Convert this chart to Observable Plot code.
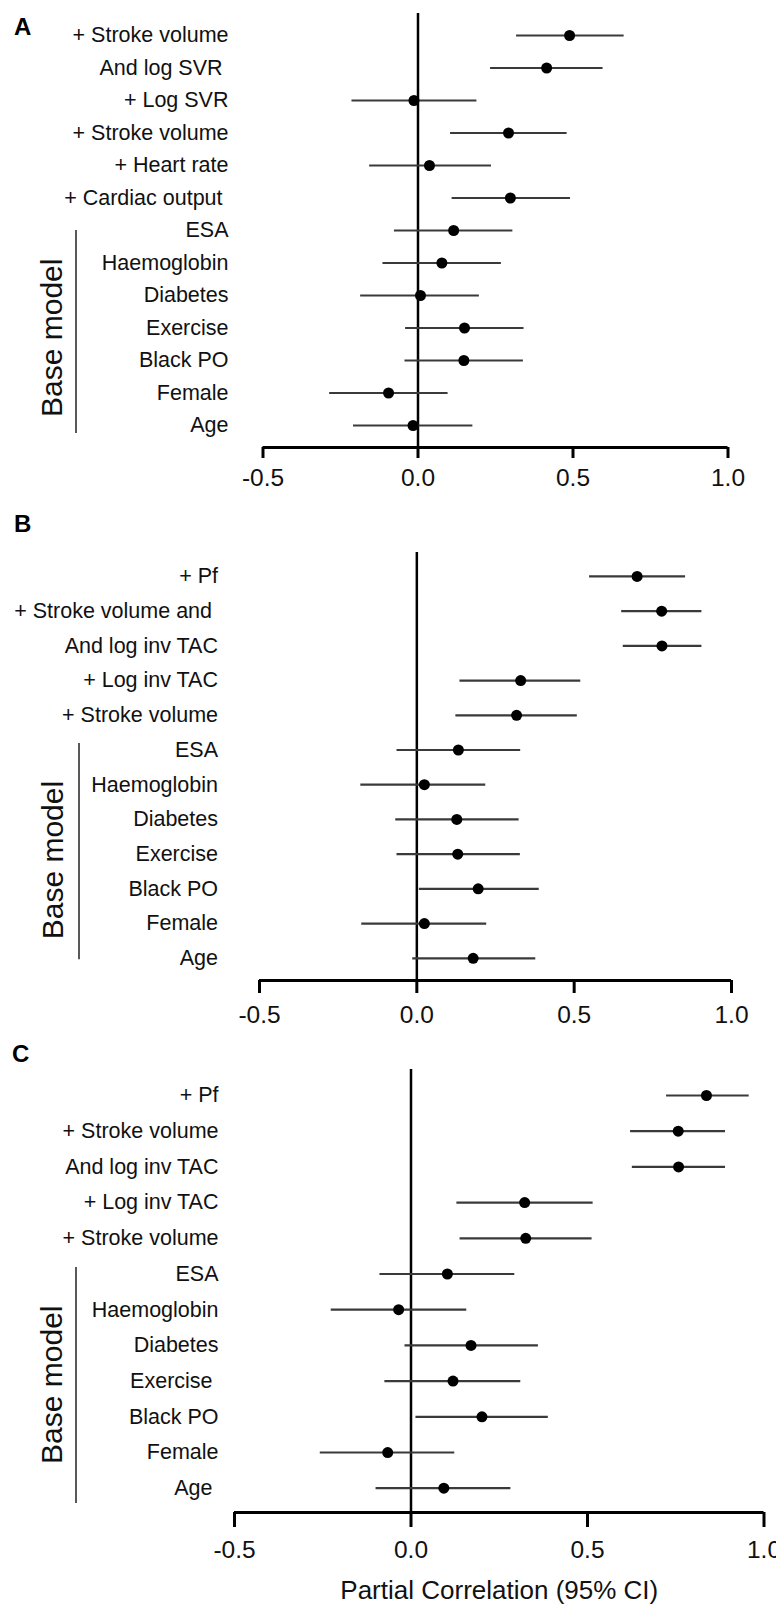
<!DOCTYPE html>
<html><head><meta charset="utf-8">
<script src="https://cdn.jsdelivr.net/npm/d3@7"></script>
<script src="https://cdn.jsdelivr.net/npm/@observablehq/plot@0.6"></script>
<style>
body{margin:0;background:#fff;}
#wrap{position:relative;width:776px;height:1605px;font-family:"Liberation Sans",Arial,sans-serif;overflow:hidden;}
.panel{position:absolute;left:0;}
.tag{position:absolute;font-weight:bold;font-size:24px;line-height:1;color:#000;}
svg{display:block;}
</style></head><body><div id="wrap"></div>
<script>
// ---- data ----
const xTicks = [-0.5, 0, 0.5, 1.0];
const groupLabel = "Base model";
const xTitle = "Partial Correlation (95% CI)";

const labelsA = ["+ Stroke volume","And log SVR\u00A0","+ Log SVR","+ Stroke volume","+ Heart rate","+ Cardiac output\u00A0","ESA","Haemoglobin","Diabetes","Exercise","Black PO","Female","Age"];
const estA = [0.489, 0.415, -0.013, 0.292, 0.037, 0.298, 0.115, 0.077, 0.008, 0.150, 0.148, -0.095, -0.016];
const loA  = [0.318, 0.234, -0.213, 0.105, -0.156, 0.110, -0.076, -0.113, -0.185, -0.040, -0.042, -0.285, -0.208];
const hiA  = [0.665, 0.597, 0.190, 0.481, 0.237, 0.492, 0.306, 0.269, 0.198, 0.342, 0.340, 0.097, 0.177];
const baseStartA = 6;

const labelsB = ["+ Pf","+ Stroke volume and\u00A0","And log inv TAC","+ Log inv TAC","+ Stroke volume","ESA","Haemoglobin","Diabetes","Exercise","Black PO","Female","Age"];
const estB = [0.700, 0.778, 0.779, 0.330, 0.317, 0.132, 0.024, 0.127, 0.130, 0.195, 0.024, 0.179];
const loB  = [0.549, 0.651, 0.656, 0.137, 0.124, -0.063, -0.178, -0.067, -0.063, 0.008, -0.175, -0.013];
const hiB  = [0.854, 0.906, 0.906, 0.521, 0.510, 0.330, 0.219, 0.325, 0.329, 0.389, 0.222, 0.378];
const baseStartB = 5;

const labelsC = ["+ Pf","+ Stroke volume","And log inv TAC","+ Log inv TAC","+ Stroke volume","ESA","Haemoglobin","Diabetes","Exercise\u00A0","Black PO","Female","Age\u00A0"];
const estC = [0.837, 0.757, 0.758, 0.322, 0.325, 0.103, -0.035, 0.170, 0.119, 0.201, -0.066, 0.093];
const loC  = [0.724, 0.622, 0.627, 0.130, 0.139, -0.088, -0.226, -0.017, -0.074, 0.014, -0.257, -0.099];
const hiC  = [0.958, 0.891, 0.891, 0.516, 0.513, 0.294, 0.158, 0.361, 0.311, 0.389, 0.124, 0.283];
const baseStartC = 5;

// ---- layout ----
const FONT = '"Liberation Sans", Arial, sans-serif';
const layouts = {
  A: {top: 0, height: 500, ml: 262.5, mr: 48.5, mt: 13, mb: 53, yTop: -0.677, yBot: 0.677, ts: 11, tp: 10, pad: 34.5,
      bx: 75.5, b1: 0.0, b2: 0.25, tx: 52, tOff: 0.3, tagTop: 15},
  B: {top: 500, height: 530, ml: 259, mr: 45, mt: 52, mb: 50, yTop: -0.69, yBot: 0.64, ts: 13, tp: 12, pad: 41.5,
      bx: 78.5, b1: -0.19, b2: 0.04, tx: 52.5, tOff: 0.17, tagTop: 512},
  C: {top: 1030, height: 575, ml: 234, mr: 12.5, mt: 39, mb: 93, yTop: -0.728, yBot: 0.68, ts: 15, tp: 13, pad: 16,
      bx: 75.5, b1: -0.18, b2: 0.43, tx: 52, tOff: 0.1, tagTop: 1042, title: true}
};

function panel(labels, est, lo, hi, baseStart, L) {
  const n = labels.length;
  const rows = labels.map((label, i) => ({i, label, est: est[i], lo: lo[i], hi: hi[i]}));
  const group = [{label: groupLabel, start: baseStart, end: n - 1}];
  const marks = [
    Plot.axisY({ticks: d3.range(n), tickFormat: i => labels[i], tickSize: 0, tickPadding: L.pad,
                fontSize: 21.5, label: null, fill: "#111"}),
    Plot.axisX({ticks: xTicks, tickFormat: d => d.toFixed(1), tickSize: L.ts, tickPadding: L.tp,
                fontSize: 24.5, strokeWidth: 3, stroke: "#000", fill: "#111", label: null}),
    Plot.ruleY([n - 1 + L.yBot], {stroke: "#000", strokeWidth: 3}),
    Plot.ruleX([0], {stroke: "#000", strokeWidth: 2.5}),
    Plot.ruleY(rows, {y: "i", x1: "lo", x2: "hi", stroke: "#3a3a3a", strokeWidth: 2.2}),
    Plot.dot(rows, {x: "est", y: "i", r: 5.5, fill: "#000", stroke: "none"}),
    Plot.ruleX(group, {x: () => -0.5, y1: d => d.start + L.b1, y2: d => d.end + L.b2, dx: L.bx - L.ml,
                       stroke: "#222", strokeWidth: 1.5}),
    Plot.text(group, {x: () => -0.5, y: d => (d.start + d.end) / 2 + L.tOff, text: "label", rotate: -90,
                      dx: L.tx - L.ml, fontSize: 30, fill: "#111"})
  ];
  if (L.title) marks.push(Plot.text([xTitle], {frameAnchor: "bottom", dy: 86, lineAnchor: "bottom", fontSize: 26, fill: "#111"}));
  return Plot.plot({
    width: 776, height: L.height,
    marginLeft: L.ml, marginRight: L.mr, marginTop: L.mt, marginBottom: L.mb,
    style: {fontFamily: FONT, background: "white", overflow: "visible"},
    x: {domain: [-0.5, 1.0]},
    y: {domain: [L.yTop, n - 1 + L.yBot], reverse: true},
    marks
  });
}

const wrap = document.getElementById("wrap");
const specs = [
  ["A", labelsA, estA, loA, hiA, baseStartA],
  ["B", labelsB, estB, loB, hiB, baseStartB],
  ["C", labelsC, estC, loC, hiC, baseStartC]
];
for (const [tag, labels, est, lo, hi, bs] of specs) {
  const L = layouts[tag];
  const div = document.createElement("div");
  div.className = "panel";
  div.style.top = L.top + "px";
  div.appendChild(panel(labels, est, lo, hi, bs, L));
  wrap.appendChild(div);
  const t = document.createElement("div");
  t.className = "tag";
  t.textContent = tag;
  t.style.left = (tag === "C" ? 12 : 14) + "px";
  t.style.top = L.tagTop + "px";
  wrap.appendChild(t);
}
</script>
</body></html>
